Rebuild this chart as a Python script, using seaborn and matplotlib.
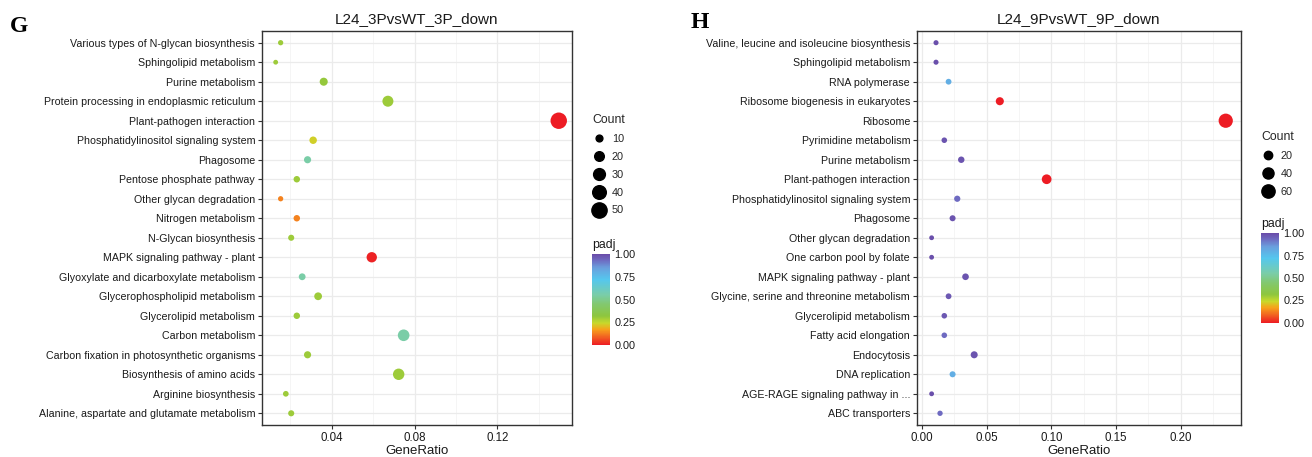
import numpy as np
import pandas as pd
import matplotlib
matplotlib.use("Agg")
import matplotlib.pyplot as plt
import seaborn as sns
from matplotlib.colors import LinearSegmentedColormap, Normalize
from matplotlib.lines import Line2D
from matplotlib.ticker import MultipleLocator, FuncFormatter
import matplotlib.colorbar as mcolorbar

# ---- panel G: L24_3P vs WT_3P, down-regulated ----
terms_g = [
    "Various types of N-glycan biosynthesis",
    "Sphingolipid metabolism",
    "Purine metabolism",
    "Protein processing in endoplasmic reticulum",
    "Plant-pathogen interaction",
    "Phosphatidylinositol signaling system",
    "Phagosome",
    "Pentose phosphate pathway",
    "Other glycan degradation",
    "Nitrogen metabolism",
    "N-Glycan biosynthesis",
    "MAPK signaling pathway - plant",
    "Glyoxylate and dicarboxylate metabolism",
    "Glycerophospholipid metabolism",
    "Glycerolipid metabolism",
    "Carbon metabolism",
    "Carbon fixation in photosynthetic organisms",
    "Biosynthesis of amino acids",
    "Arginine biosynthesis",
    "Alanine, aspartate and glutamate metabolism",
]
ratio_g = [0.0153, 0.0129, 0.0361, 0.0671, 0.1496, 0.0310, 0.0283, 0.0231, 0.0153, 0.0231,
           0.0204, 0.0593, 0.0257, 0.0334, 0.0231, 0.0747, 0.0283, 0.0723, 0.0178, 0.0204]
count_g = [6, 5, 14, 26, 58, 12, 11, 9, 6, 9,
           8, 23, 10, 13, 9, 29, 11, 28, 7, 8]
padj_g = [0.30, 0.30, 0.31, 0.30, 0.00, 0.23, 0.55, 0.30, 0.13, 0.13,
          0.30, 0.01, 0.55, 0.30, 0.30, 0.55, 0.30, 0.30, 0.30, 0.30]

# ---- panel H: L24_9P vs WT_9P, down-regulated ----
terms_h = [
    "Valine, leucine and isoleucine biosynthesis",
    "Sphingolipid metabolism",
    "RNA polymerase",
    "Ribosome biogenesis in eukaryotes",
    "Ribosome",
    "Pyrimidine metabolism",
    "Purine metabolism",
    "Plant-pathogen interaction",
    "Phosphatidylinositol signaling system",
    "Phagosome",
    "Other glycan degradation",
    "One carbon pool by folate",
    "MAPK signaling pathway - plant",
    "Glycine, serine and threonine metabolism",
    "Glycerolipid metabolism",
    "Fatty acid elongation",
    "Endocytosis",
    "DNA replication",
    "AGE-RAGE signaling pathway in ...",
    "ABC transporters",
]
ratio_h = [0.0108, 0.0108, 0.0205, 0.0601, 0.2347, 0.0172, 0.0303, 0.0963, 0.0272, 0.0236,
           0.0074, 0.0074, 0.0336, 0.0205, 0.0172, 0.0172, 0.0403, 0.0236, 0.0074, 0.0139]
count_h = [3, 3, 6, 18, 70, 5, 9, 29, 8, 7,
           2, 2, 10, 6, 5, 5, 12, 7, 2, 4]
padj_h = [0.99, 0.99, 0.80, 0.00, 0.00, 0.98, 0.98, 0.00, 0.93, 0.98,
          0.99, 0.99, 0.98, 0.97, 0.97, 0.93, 0.98, 0.80, 0.99, 0.93]

count_breaks_g = [10, 20, 30, 40, 50]
count_breaks_h = [20, 40, 60]
padj_ticks = [0.0, 0.25, 0.5, 0.75, 1.0]

# rainbow-like padj scale: red (significant) -> purple (not significant)
padj_cmap = LinearSegmentedColormap.from_list(
    "padj",
    [(0.00, "#ED1C24"), (0.10, "#F26B21"), (0.17, "#F7A21B"), (0.24, "#C8D92B"),
     (0.32, "#8DC63F"), (0.45, "#82C870"), (0.55, "#7ACDA8"), (0.72, "#55C7EE"),
     (0.85, "#6A9FDD"), (0.93, "#6E6CC2"), (1.00, "#6A4BA8")],
)

sns.set_theme(style="white")
plt.rcParams["font.family"] = ["Liberation Sans", "DejaVu Sans"]

W, H = 1312, 457
fig = plt.figure(figsize=(W / 100, H / 100), dpi=100)
fig.patch.set_facecolor("white")

TXT = "#1a1a1a"


def fx(px):
    return px / W


def fy(py):
    return 1 - py / H


def size_fn(c, smin, smax, cmin, cmax):
    return smin + (c - cmin) / (cmax - cmin) * (smax - smin)


def panel(left, right, terms, ratio, count, padj, title, xlim, major, minor,
          smin, smax, breaks, leg_x, leg_top, cb_x, cb_top, cb_bottom):
    ax = fig.add_axes([fx(left), fy(425), fx(right - left), (425 - 31) / H])
    df = pd.DataFrame({"Term": terms, "GeneRatio": ratio, "Count": count, "padj": padj})
    cmin, cmax = min(count), max(count)
    sns.scatterplot(data=df, x="GeneRatio", y="Term", hue="padj", size="Count",
                    palette=padj_cmap, hue_norm=(0, 1), sizes=(smin, smax),
                    size_norm=(cmin, cmax), linewidth=0, legend=False, ax=ax, zorder=3)
    ax.set_xlim(*xlim)
    ax.set_ylim(len(terms) - 0.4, -0.6)
    ax.xaxis.set_major_locator(MultipleLocator(major))
    ax.xaxis.set_minor_locator(MultipleLocator(minor))
    ax.xaxis.set_major_formatter(FuncFormatter(lambda v, p: f"{v:.2f}"))
    ax.grid(which="major", color="#EBEBEB", linewidth=0.9, zorder=0)
    ax.grid(which="minor", axis="x", color="#F2F2F2", linewidth=0.5, zorder=0)
    ax.set_axisbelow(True)
    for s in ax.spines.values():
        s.set_color("#333333")
        s.set_linewidth(1.0)
    ax.tick_params(axis="both", which="major", direction="out", length=3, width=0.8,
                   color="#333333", labelsize=7.7, labelcolor=TXT, pad=2,
                   left=True, bottom=True)
    ax.tick_params(axis="x", which="major", labelsize=8.3)
    ax.tick_params(axis="x", which="minor", length=0)
    ax.set_xlabel("GeneRatio", fontsize=9.5, color=TXT, labelpad=1)
    ax.set_ylabel("")
    ax.set_title(title, fontsize=11, color=TXT, pad=6)

    # Count legend
    handles = [Line2D([], [], linestyle="none", marker="o", color="black",
                      markersize=np.sqrt(size_fn(b, smin, smax, cmin, cmax)))
               for b in breaks]
    fig.legend(handles, [str(b) for b in breaks], title="Count",
               loc="upper left", bbox_to_anchor=(fx(leg_x), fy(leg_top)),
               frameon=False, fontsize=7.8, title_fontsize=8.8,
               handletextpad=0.6, labelspacing=0.72, borderaxespad=0,
               handlelength=1.2, alignment="left")

    # padj colourbar
    cax = fig.add_axes([fx(cb_x), fy(cb_bottom), fx(18), (cb_bottom - cb_top) / H])
    cb = mcolorbar.ColorbarBase(cax, cmap=padj_cmap, norm=Normalize(0, 1),
                                orientation="vertical", ticks=padj_ticks)
    cb.outline.set_visible(False)
    cb.ax.set_yticklabels([f"{t:.2f}" for t in padj_ticks])
    cb.ax.tick_params(length=4, width=0.6, color="white", direction="in",
                      labelsize=7.8, labelcolor=TXT, pad=3)
    cax.text(0, 1.035, "padj", transform=cax.transAxes, ha="left", va="bottom",
             fontsize=8.8, color=TXT)
    return ax


panel(262, 572, terms_g, ratio_g, count_g, padj_g, "L24_3PvsWT_3P_down",
      (0.0063, 0.156), 0.04, 0.02, 12, 140, count_breaks_g,
      588, 110, 592, 254, 345)
panel(917, 1241, terms_h, ratio_h, count_h, padj_h, "L24_9PvsWT_9P_down",
      (-0.0039, 0.2465), 0.05, 0.025, 12, 105, count_breaks_h,
      1257, 127, 1261, 233, 323)

fig.text(fx(10), fy(27), "G", fontfamily="Liberation Serif", fontweight="bold",
         fontsize=17, ha="left", va="center", color="black")
fig.text(fx(691), fy(22), "H", fontfamily="Liberation Serif", fontweight="bold",
         fontsize=17, ha="left", va="center", color="black")

fig.savefig("out.png", dpi=100, facecolor="white")
